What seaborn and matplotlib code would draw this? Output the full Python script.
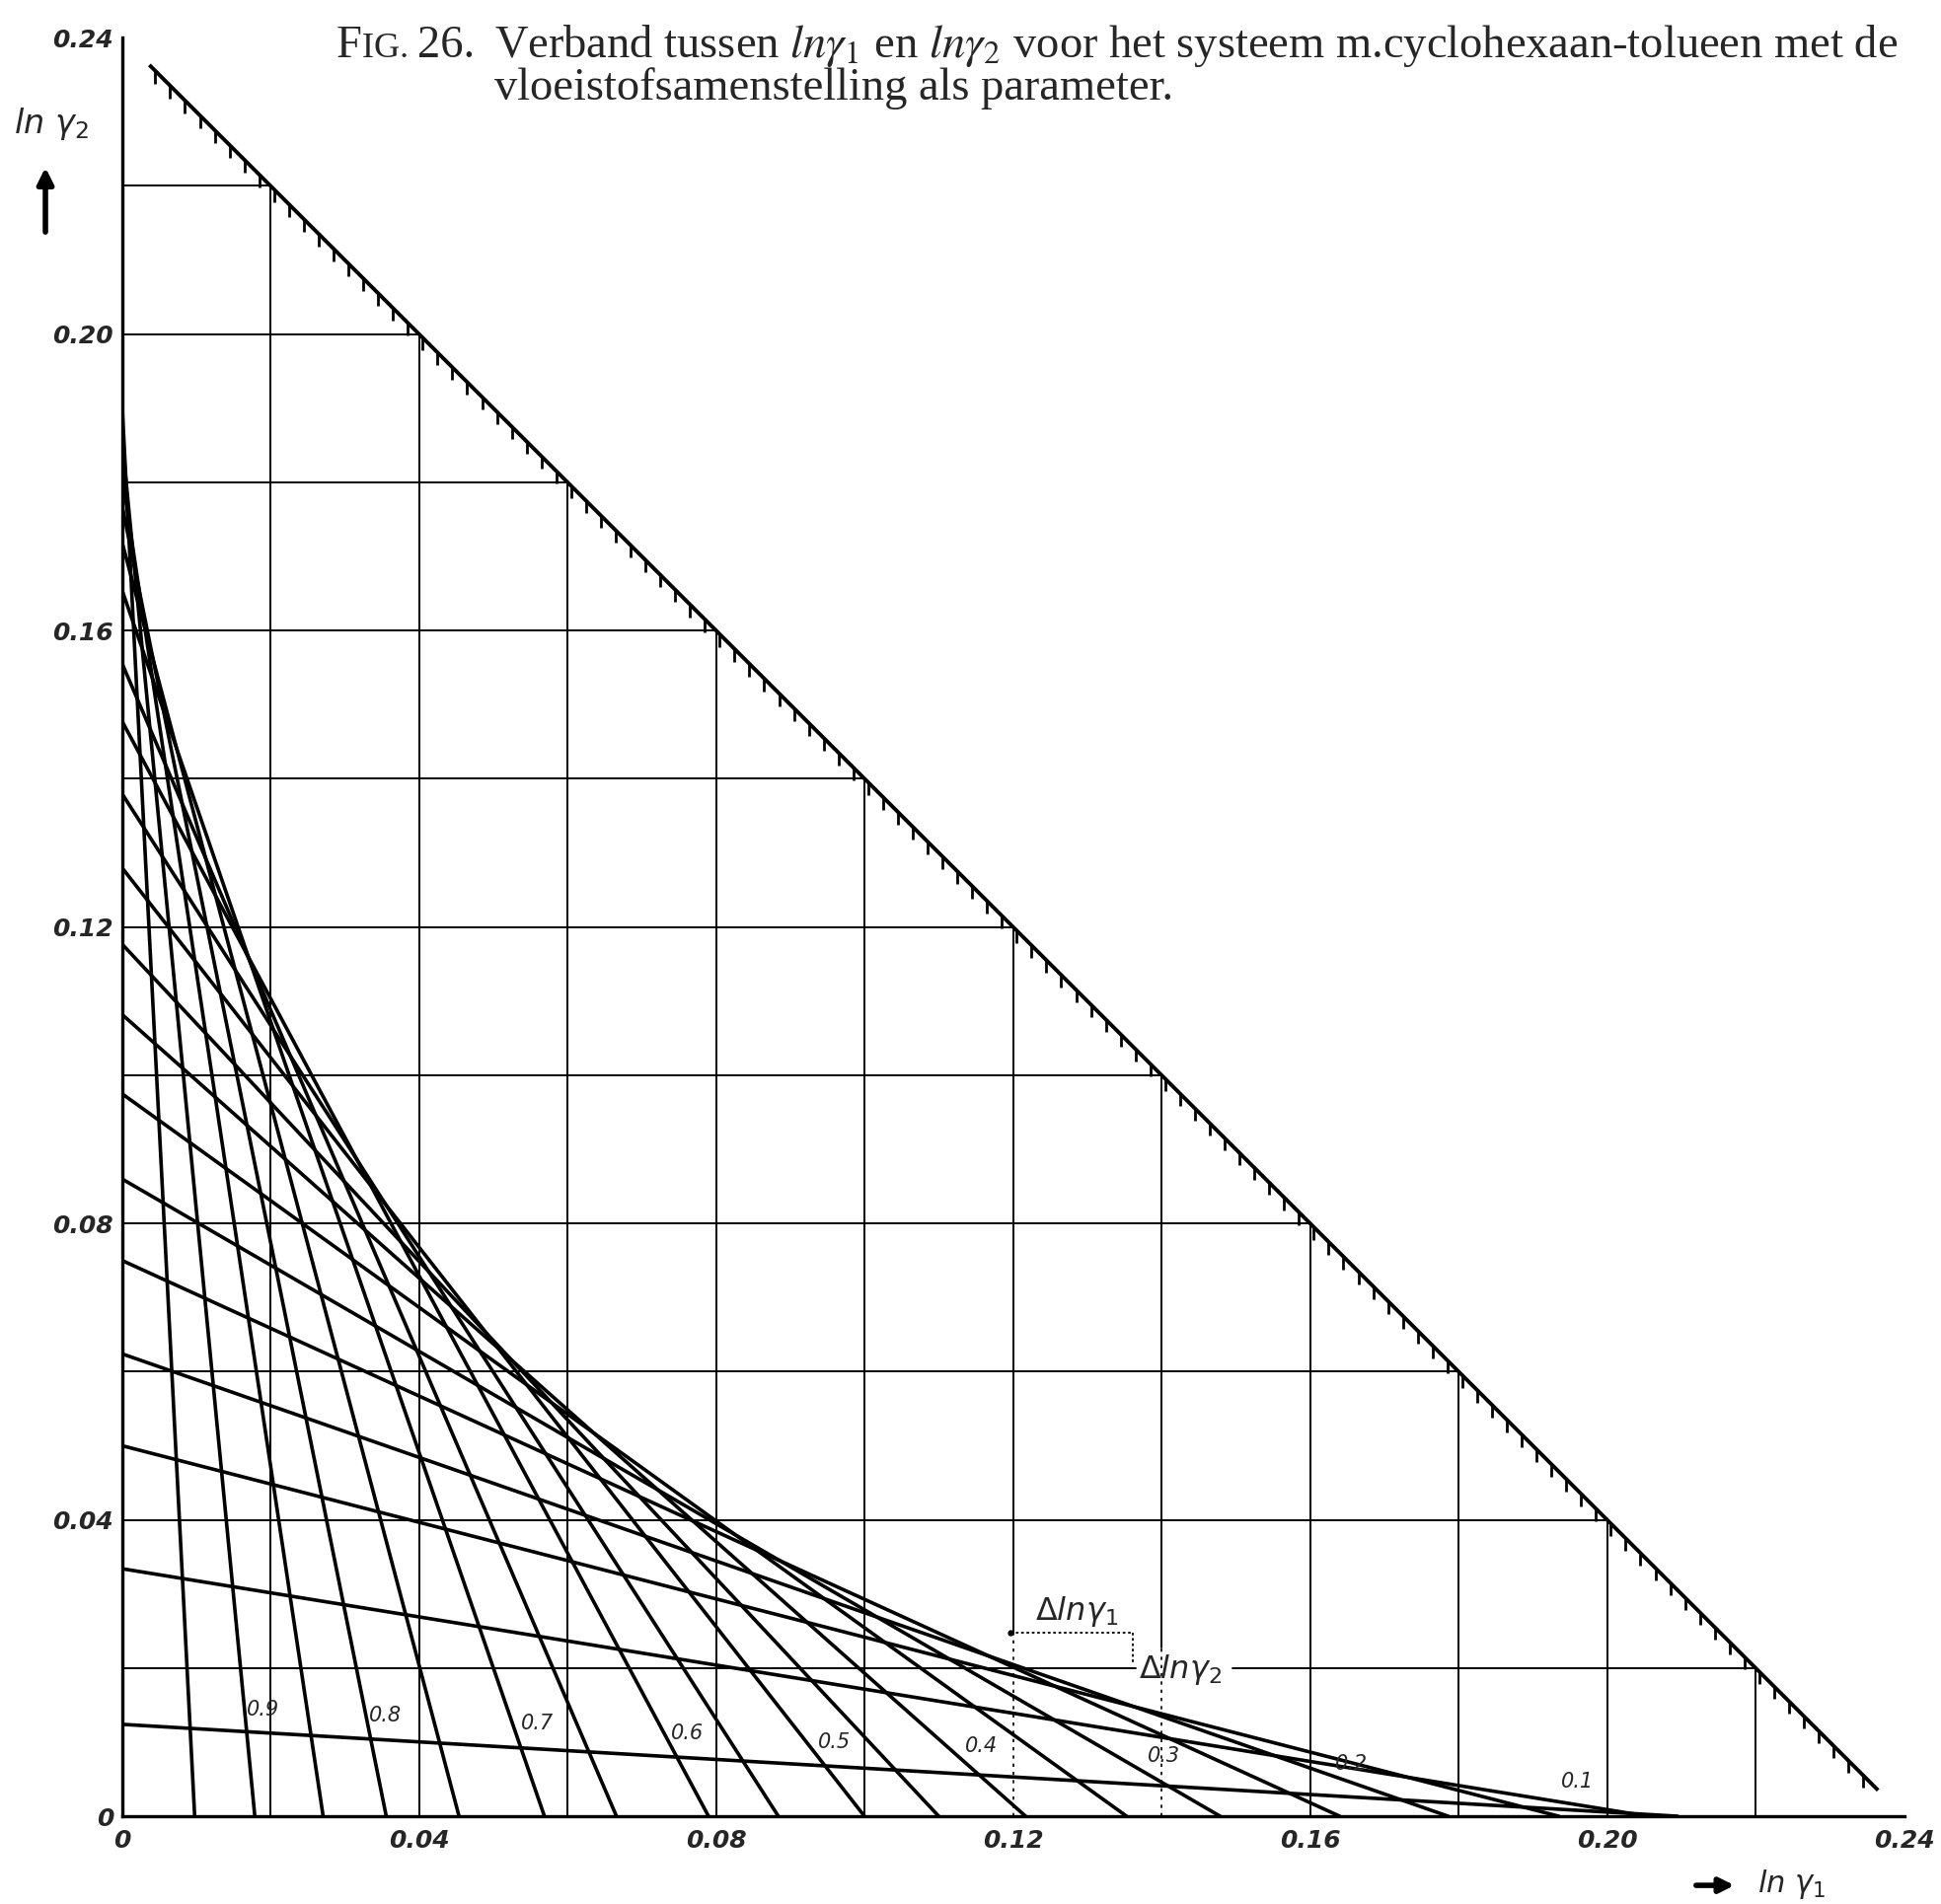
import numpy as np
import pandas as pd
import matplotlib
matplotlib.use("Agg")
import matplotlib.pyplot as plt
from matplotlib.ticker import FixedLocator, FuncFormatter
import seaborn as sns

# Liquid composition belonging to each straight line (parameter of the family)
composition = [0.95, 0.90, 0.85, 0.80, 0.75, 0.70, 0.65, 0.60, 0.55, 0.50,
               0.45, 0.40, 0.35, 0.30, 0.25, 0.20, 0.15, 0.10, 0.05]
# Where each line meets the ln gamma1 axis
ln_g1_intercept = [0.0098, 0.0179, 0.0271, 0.0356, 0.0454, 0.0569, 0.0666,
                   0.0790, 0.0884, 0.1000, 0.1100, 0.1217, 0.1353, 0.1479,
                   0.1640, 0.1786, 0.1935, 0.2055, 0.2095]
# Where each line meets the ln gamma2 axis
ln_g2_intercept = [0.1910, 0.1860, 0.1810, 0.1770, 0.1720, 0.1655, 0.1556,
                   0.1478, 0.1380, 0.1280, 0.1177, 0.1082, 0.0975, 0.0860,
                   0.0750, 0.0624, 0.0500, 0.0334, 0.0124]

# Labels written next to every second line
line_labels = ["0.9", "0.8", "0.7", "0.6", "0.5", "0.4", "0.3", "0.2", "0.1"]
label_pos = [(0.0190, 0.0144), (0.0355, 0.0136), (0.0559, 0.0125),
             (0.0762, 0.0112), (0.0959, 0.0100), (0.1158, 0.0094),
             (0.1403, 0.0081), (0.1656, 0.0070), (0.1960, 0.0046)]

# Axis tick labels
tick_values = [0.00, 0.04, 0.08, 0.12, 0.16, 0.20, 0.24]
tick_text = ["0", "0.04", "0.08", "0.12", "0.16", "0.20", "0.24"]

LIMIT = 0.24                      # ln g1 + ln g2 = 0.24 boundary line
grid_steps = np.round(np.arange(0.02, 0.2201, 0.02), 3)

sns.set_style("white")
plt.rcParams["font.family"] = ["DejaVu Sans"]
plt.rcParams["mathtext.fontset"] = "dejavusans"

fig = plt.figure(figsize=(19.67, 19.30), dpi=100)
ax = fig.add_axes([0.0628, 0.0461, 0.9182, 0.9342])
ax.set_xlim(0, LIMIT)
ax.set_ylim(0, LIMIT)

# ---- staircase grid below the boundary line ----
grid_lw = 1.4
for g in grid_steps:
    # horizontal line, with a gap for the delta label on the 0.02 line
    if abs(g - 0.02) < 1e-9:
        ax.plot([0, 0.1365], [g, g], color="black", lw=grid_lw, zorder=1)
        ax.plot([0.1495, LIMIT - g], [g, g], color="black", lw=grid_lw, zorder=1)
    else:
        ax.plot([0, LIMIT - g], [g, g], color="black", lw=grid_lw, zorder=1)
    # vertical lines; the 0.12 and 0.14 lines turn dotted near the bottom
    if abs(g - 0.12) < 1e-9:
        ax.plot([g, g], [0.0248, LIMIT - g], color="black", lw=grid_lw, zorder=1)
        ax.plot([g, g], [0, 0.0248], color="black", lw=1.2, ls=(0, (2, 3)), zorder=1)
    elif abs(g - 0.14) < 1e-9:
        ax.plot([g, g], [0.0228, LIMIT - g], color="black", lw=grid_lw, zorder=1)
        ax.plot([g, g], [0, 0.0228], color="black", lw=1.2, ls=(0, (2, 3)), zorder=1)
    else:
        ax.plot([g, g], [0, LIMIT - g], color="black", lw=grid_lw, zorder=1)

# ---- boundary line with hatching underneath ----
diag_x = np.array([0.0037, 0.2365])
ax.plot(diag_x, LIMIT - diag_x, color="black", lw=2.8, zorder=3,
        solid_capstyle="butt")
hatch_x = np.arange(0.0045, 0.2365, 0.002)
ax.vlines(hatch_x, LIMIT - hatch_x - 0.0017, LIMIT - hatch_x,
          color="black", lw=2.0, zorder=3)

# ---- family of straight lines, one per liquid composition ----
rows = []
for c, x0, y0 in zip(composition, ln_g1_intercept, ln_g2_intercept):
    rows.append({"composition": c, "ln_g1": 0.0, "ln_g2": y0})
    rows.append({"composition": c, "ln_g1": x0, "ln_g2": 0.0})
lines_df = pd.DataFrame(rows)
sns.lineplot(data=lines_df, x="ln_g1", y="ln_g2", units="composition",
             estimator=None, sort=False, color="black", lw=2.6,
             legend=False, ax=ax, zorder=4)
ax.set_xlabel("")
ax.set_ylabel("")

for txt, (lx, ly) in zip(line_labels, label_pos):
    ax.text(lx, ly, txt, fontsize=15, style="italic", ha="center",
            va="center", zorder=5)

# ---- delta construction ----
ax.plot([0.1197, 0.1361], [0.0248, 0.0248], color="black", lw=1.3,
        ls=(0, (1.5, 1.5)), zorder=5)
ax.plot([0.1361, 0.1361], [0.0248, 0.0205], color="black", lw=1.3,
        ls=(0, (1.5, 1.5)), zorder=5)
ax.plot([0.1197], [0.0248], marker="o", ms=3.5, color="black", zorder=5)
ax.text(0.1286, 0.0276, r"$\Delta ln\gamma_1$", fontsize=23,
        ha="center", va="center", zorder=5)
ax.text(0.1425, 0.0198, r"$\Delta ln\gamma_2$", fontsize=23,
        ha="center", va="center", zorder=5)

# ---- axes, ticks ----
for side in ["top", "right"]:
    ax.spines[side].set_visible(False)
for side in ["left", "bottom"]:
    ax.spines[side].set_linewidth(2.4)
    ax.spines[side].set_color("black")

major = np.round(np.arange(0, 0.2401, 0.01), 3)
minor = np.round(np.arange(0, 0.2401, 0.002), 3)
label_map = {round(v, 3): t for v, t in zip(tick_values, tick_text)}


def tick_fmt(v, pos):
    return label_map.get(round(v, 3), "")


for axis in (ax.xaxis, ax.yaxis):
    axis.set_major_locator(FixedLocator(major))
    axis.set_minor_locator(FixedLocator(minor))
    axis.set_major_formatter(FuncFormatter(tick_fmt))
ax.tick_params(which="major", direction="in", length=14, width=2.0,
               labelsize=18, color="black")
ax.tick_params(which="minor", direction="in", length=9, width=1.8,
               color="black")
ax.tick_params(axis="x", which="major", pad=9)
ax.tick_params(axis="y", which="major", pad=6)
for lab in ax.get_xticklabels() + ax.get_yticklabels():
    lab.set_fontstyle("italic")
    lab.set_fontweight("bold")

# ---- axis titles with arrows ----
fig.text(0.0070, 0.935, r"$ln\ \gamma_2$", fontsize=24, ha="left", va="center")
fig.patches.append(matplotlib.patches.FancyArrowPatch(
    (0.0234, 0.8767), (0.0234, 0.9135), transform=fig.transFigure,
    arrowstyle="-|>", mutation_scale=24, lw=4.0, color="black"))
fig.patches.append(matplotlib.patches.FancyArrowPatch(
    (0.8724, 0.0098), (0.8950, 0.0098), transform=fig.transFigure,
    arrowstyle="-|>", mutation_scale=22, lw=4.0, color="black"))
fig.text(0.9055, 0.0104, r"$ln\ \gamma_1$", fontsize=22, ha="left", va="center")

# ---- caption ----
serif = "Liberation Serif"
cap_size = 33.5
base1 = 1 - 58 / 1930
base2 = 1 - 101 / 1930
renderer = fig.canvas.get_renderer()
x_pos = 341 / 1967
for part, size in [("F", cap_size), ("IG. ", cap_size * 0.78), ("26.", cap_size)]:
    t = fig.text(x_pos, base1, part, fontsize=size, family=serif, va="baseline")
    bb = t.get_window_extent(renderer=renderer)
    x_pos = bb.x1 / fig.bbox.width
fig.text(501 / 1967, base1,
         r"Verband tussen $ln\gamma_1$ en $ln\gamma_2$ voor het systeem "
         r"m.cyclohexaan-tolueen met de",
         fontsize=cap_size, family=serif, math_fontfamily="stix", va="baseline")
fig.text(501 / 1967, base2, "vloeistofsamenstelling als parameter.",
         fontsize=cap_size, family=serif, va="baseline")

fig.savefig("out.png", dpi=100, facecolor="white")
